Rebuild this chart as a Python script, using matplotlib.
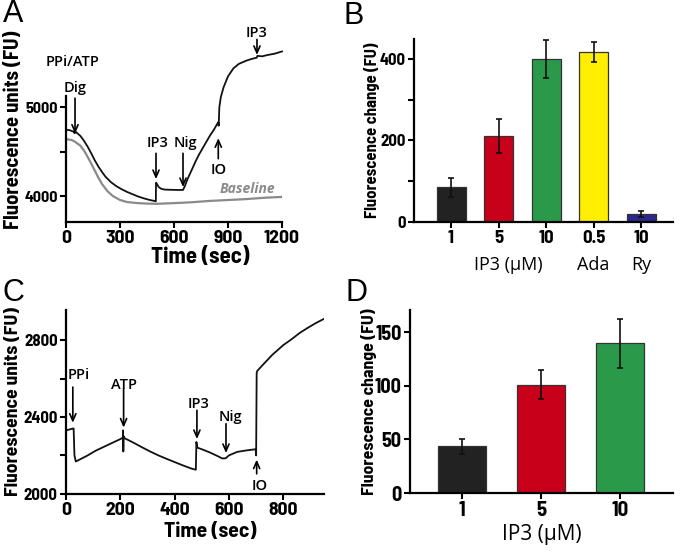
import numpy as np
import matplotlib
matplotlib.use('Agg')
import matplotlib.pyplot as plt

# ---- panel A: fluorescence trace (black) and baseline (gray)
a_time = [0, 20, 40, 48, 52, 60, 80, 100, 120, 140, 160, 180, 200, 220, 250, 280, 310,
          340, 370, 400, 430, 460, 490, 499, 500, 505, 515, 530, 550, 580, 620, 650,
          660, 675, 700, 720, 740, 760, 780, 800, 820, 840, 846, 848, 852, 860, 875,
          900, 930, 960, 1000, 1030, 1060, 1063, 1090, 1120, 1160, 1200]
a_fu = [4745, 4740, 4725, 4705, 4725, 4710, 4675, 4620, 4555, 4480, 4400, 4330, 4270,
        4215, 4155, 4110, 4075, 4045, 4020, 3995, 3975, 3958, 3945, 3940, 4150, 4135,
        4100, 4080, 4072, 4070, 4068, 4068, 4110, 4190, 4300, 4390, 4470, 4540, 4610,
        4680, 4740, 4810, 4830, 4790, 5000, 5110, 5220, 5345, 5435, 5485, 5520, 5540,
        5555, 5575, 5570, 5585, 5600, 5625]
base_time = [0, 30, 50, 80, 100, 120, 140, 160, 180, 200, 230, 260, 300, 340, 400,
             450, 500, 600, 700, 800, 900, 1000, 1100, 1200]
base_fu = [4640, 4630, 4610, 4565, 4510, 4440, 4365, 4285, 4205, 4135, 4055, 4000,
           3955, 3932, 3920, 3915, 3912, 3920, 3930, 3945, 3955, 3965, 3980, 3990]

# ---- panel C trace
c_time = [0, 25, 28, 31, 36, 50, 80, 110, 140, 170, 200, 209, 210, 211, 212, 215,
          250, 280, 310, 340, 370, 400, 430, 460, 478, 480, 484, 500, 530, 560, 575,
          588, 600, 630, 660, 698, 700, 702, 704, 720, 740, 760, 780, 800, 830, 860,
          890, 920, 950]
c_fu = [2330, 2340, 2340, 2200, 2168, 2178, 2200, 2225, 2245, 2265, 2285, 2292, 2330,
        2220, 2300, 2290, 2265, 2242, 2220, 2200, 2182, 2165, 2148, 2132, 2125, 2270,
        2240, 2232, 2215, 2195, 2184, 2185, 2200, 2218, 2225, 2232, 2200, 2630, 2640,
        2665, 2695, 2725, 2750, 2775, 2805, 2838, 2865, 2890, 2912]

# ---- panel B bars
b_ticks = ['1', '5', '10', '0.5', '10']
b_vals = [85, 211, 400, 417, 20]
b_err = [23, 42, 46, 25, 7]
b_colors = ['#222222', '#c8001a', '#2a9a4a', '#ffee00', '#2b2a8a']

# ---- panel D bars
d_ticks = ['1', '5', '10']
d_vals = [43.5, 101, 139.5]
d_err = [7, 13.5, 23]
d_colors = ['#222222', '#c8001a', '#2a9a4a']

plt.rcParams['font.family'] = ['Barlow Semi Condensed', 'DejaVu Sans']
plt.rcParams['font.stretch'] = 'condensed'
plt.rcParams['font.weight'] = 'bold'
plt.rcParams['axes.labelweight'] = 'bold'
ann = dict(family=['Open Sans', 'DejaVu Sans'], weight='semibold', stretch='normal')

fig = plt.figure(figsize=(6.8, 5.54), dpi=100)
axA = fig.add_axes([0.0971, 0.5993, 0.3176, 0.2274])
axB = fig.add_axes([0.6088, 0.5993, 0.3809, 0.3303])
axC = fig.add_axes([0.0971, 0.1088, 0.3794, 0.3316])
axD = fig.add_axes([0.6029, 0.1101, 0.3868, 0.3303])
renderer = fig.canvas.get_renderer()


def style(ax, xsize, ysize):
    for s in ['top', 'right']:
        ax.spines[s].set_visible(False)
    for s in ['left', 'bottom']:
        ax.spines[s].set_linewidth(1.6)
    ax.tick_params(width=1.5, length=4, pad=2)
    ax.tick_params(axis='x', labelsize=xsize)
    ax.tick_params(axis='y', labelsize=ysize)


def fit(label, target):
    # scale a vertical label so its length in pixels matches the reference
    bb = label.get_window_extent(renderer)
    label.set_fontsize(label.get_fontsize() * target / bb.height)


def arrow(ax, x, y0, y1, lw=1.2):
    ax.annotate('', xy=(x, y1), xytext=(x, y0), annotation_clip=False,
                arrowprops=dict(arrowstyle='->,head_length=0.5,head_width=0.22',
                                lw=lw, color='k', shrinkA=0, shrinkB=0))


# ---- A
style(axA, 14, 11.5)
axA.plot(base_time, base_fu, color='#8a8a8a', lw=1.6)
axA.plot(a_time, a_fu, color='#111111', lw=1.3, clip_on=False)
axA.set_xlim(0, 1200)
axA.set_ylim(3708, 5124)
axA.set_xticks([0, 300, 600, 900, 1200])
axA.set_yticks([4000, 4500, 5000])
axA.set_yticklabels(['4000', '', '5000'])
axA.set_xlabel('Time (sec)', fontsize=16.5)
axA.xaxis.set_label_coords(0.62, -0.195)
axA.set_ylabel('Fluorescence units (FU)', fontsize=13.5)
axA.yaxis.set_label_coords(-0.199, 0.73)
fit(axA.yaxis.label, 198)
axA.text(35, 5506, 'PPi/ATP', ha='center', va='center', fontsize=10.5, **ann)
axA.text(50, 5213, 'Dig', ha='center', va='center', fontsize=10.5, **ann)
arrow(axA, 50, 5100, 4700)
axA.text(510, 4596, 'IP3', ha='center', va='center', fontsize=10.5, **ann)
arrow(axA, 500, 4480, 4190)
axA.text(665, 4596, 'Nig', ha='center', va='center', fontsize=10.5, **ann)
arrow(axA, 650, 4480, 4100)
axA.text(846, 4292, 'IO', ha='center', va='center', fontsize=10.5, **ann)
arrow(axA, 846, 4420, 4650)
axA.text(1061, 5831, 'IP3', ha='center', va='center', fontsize=10.5, **ann)
arrow(axA, 1061, 5760, 5585)
axA.text(1006, 4079, 'Baseline', ha='center', va='center', fontsize=10,
         color='#8a8a8a', style='italic', family=['Open Sans', 'DejaVu Sans'],
         weight='bold', stretch='normal')

# ---- B
style(axB, 13.5, 12)
xb = np.arange(len(b_vals))
axB.bar(xb, b_vals, width=0.61, color=b_colors, edgecolor='#333333', lw=0.9)
axB.errorbar(xb, b_vals, yerr=b_err, fmt='none', ecolor='#111111', elinewidth=1.2,
             capsize=2.5, capthick=1.2)
axB.set_xlim(-0.78, 4.67)
axB.set_ylim(0, 449)
axB.set_xticks(xb)
axB.set_xticklabels(b_ticks)
axB.set_yticks([0, 100, 200, 300, 400])
axB.set_yticklabels(['0', '', '200', '', '400'])
axB.set_ylabel('Fluorescence change (FU)', fontsize=12.5)
axB.yaxis.set_label_coords(-0.13, 0.5)
fit(axB.yaxis.label, 175)
grp = dict(family=['Open Sans', 'DejaVu Sans'], weight='normal', stretch='normal',
           fontsize=13, ha='center', va='center', transform=axB.get_xaxis_transform())
axB.text(1.2, -0.235, 'IP3 (\u03bcM)', **grp)
axB.text(3, -0.235, 'Ada', **grp)
axB.text(4, -0.235, 'Ry', **grp)

# ---- C
style(axC, 14, 12)
axC.plot(c_time, c_fu, color='#111111', lw=1.3)
axC.set_xlim(0, 950)
axC.set_ylim(2000, 2958)
axC.set_xticks([0, 200, 400, 600, 800])
axC.set_yticks([2000, 2200, 2400, 2600, 2800])
axC.set_yticklabels(['2000', '', '2400', '', '2800'])
axC.set_xlabel('Time (sec)', fontsize=15.5)
axC.xaxis.set_label_coords(0.558, -0.155)
axC.set_ylabel('Fluorescence units (FU)', fontsize=12.5)
axC.yaxis.set_label_coords(-0.171, 0.5)
fit(axC.yaxis.label, 189)
axC.text(48, 2619, 'PPi', ha='center', va='center', fontsize=10.5, **ann)
arrow(axC, 25, 2556, 2370)
axC.text(215, 2565, 'ATP', ha='center', va='center', fontsize=10.5, **ann)
arrow(axC, 212, 2548, 2345)
axC.text(487, 2469, 'IP3', ha='center', va='center', fontsize=10.5, **ann)
arrow(axC, 482, 2435, 2285)
axC.text(604, 2400, 'Nig', ha='center', va='center', fontsize=10.5, **ann)
arrow(axC, 589, 2365, 2212)
axC.text(712, 2039, 'IO', ha='center', va='center', fontsize=10.5, **ann)
arrow(axC, 702, 2104, 2178)

# ---- D
style(axD, 15, 14.5)
xd = np.arange(len(d_vals))
axD.bar(xd, d_vals, width=0.61, color=d_colors, edgecolor='#333333', lw=0.9)
axD.errorbar(xd, d_vals, yerr=d_err, fmt='none', ecolor='#111111', elinewidth=1.2,
             capsize=2.5, capthick=1.2)
axD.set_xlim(-0.66, 2.67)
axD.set_ylim(0, 170.5)
axD.set_xticks(xd)
axD.set_xticklabels(d_ticks)
axD.set_yticks([0, 50, 100, 150])
axD.set_ylabel('Fluorescence change (FU)', fontsize=12.5)
axD.yaxis.set_label_coords(-0.125, 0.5)
fit(axD.yaxis.label, 187)
axD.set_xlabel('IP3 (\u03bcM)', fontsize=15, family=['Open Sans', 'DejaVu Sans'],
               weight='normal', stretch='normal')
axD.xaxis.set_label_coords(0.5, -0.17)

for lab, x, y in [('A', 13, 14), ('B', 354, 16), ('C', 13, 293), ('D', 356, 293)]:
    fig.text(x / 680, 1 - y / 554, lab, ha='center', va='center', fontsize=22,
             family=['Liberation Sans', 'DejaVu Sans'], weight='normal', stretch='normal')

fig.savefig('out.png', dpi=100)
